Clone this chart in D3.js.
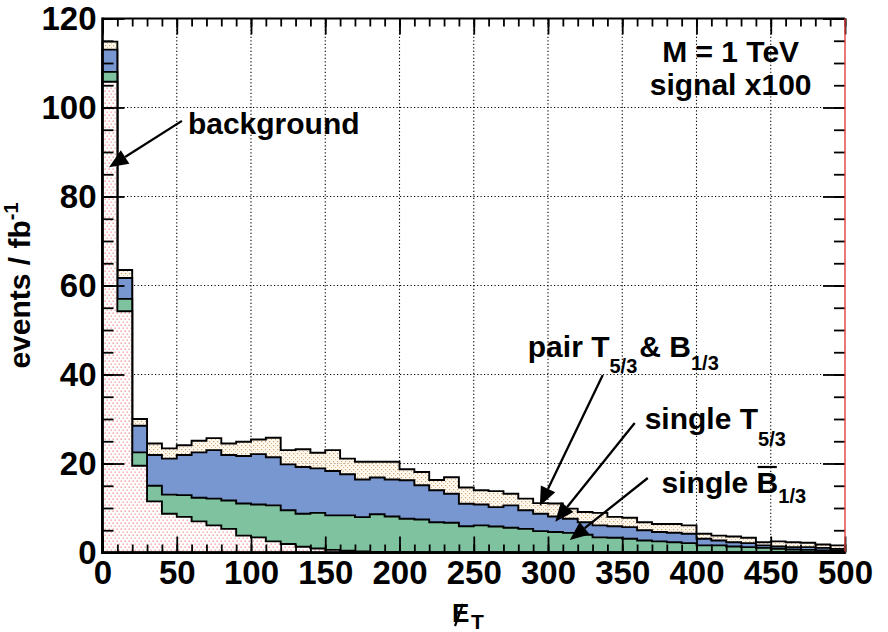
<!DOCTYPE html>
<html>
<head>
<meta charset="utf-8">
<script src="https://cdn.jsdelivr.net/npm/d3@7"></script>
<style>
  html, body { margin: 0; padding: 0; background: #fff; }
  svg { display: block; font-family: "Liberation Sans", Arial, Helvetica, sans-serif; font-weight: bold; }
</style>
</head>
<body>
<svg id="chart" width="888" height="632"></svg>
<script>
// Missing transverse energy, 10 GeV bins from 0 to 500 GeV
const binWidth = 10;
const binLow = d3.range(0, 500, binWidth);

// events / fb^-1 per bin, stacked bottom to top
const background = [105.8, 54.2, 19.5, 11.5, 8.7, 8.0, 7.0, 6.1, 5.3, 3.8,
                    3.4, 2.5, 1.9, 1.3, 0.9, 0.6, 0.4, 0.25, 0.15, 0.1,
                    0.05, 0.03, 0.02, 0.02, 0.01, 0, 0, 0, 0, 0,
                    0, 0, 0, 0, 0, 0, 0, 0, 0, 0,
                    0, 0, 0, 0, 0, 0, 0, 0, 0, 0];
const singleB = [2.2, 2.8, 3.0, 3.5, 4.3, 4.9, 5.3, 6.0, 6.4, 7.2,
                 7.4, 8.1, 7.6, 7.4, 8.0, 7.75, 7.95, 7.7, 8.45, 8.0,
                 7.55, 7.37, 6.78, 6.68, 5.89, 6.1, 5.85, 5.55, 5.3, 4.8,
                 4.6, 4.4, 4.0, 3.4, 3.3, 3.1, 2.7, 2.5, 2.3, 2.1,
                 1.6, 1.6, 1.35, 1.2, 1.05, 0.82, 0.67, 0.6, 0.45, 0.45];
const singleT = [5.0, 4.7, 6.0, 6.9, 8.1, 9.0, 10.2, 10.9, 10.2, 10.7,
                 11.3, 10.8, 10.3, 10.5, 10.0, 9.95, 9.25, 8.45, 8.25, 8.3,
                 8.65, 7.7, 7.2, 6.5, 5.06, 4.7, 4.35, 5.05, 4.2, 3.9,
                 3.5, 3.2, 2.8, 2.7, 2.6, 2.6, 2.3, 2.1, 2.15, 2.1,
                 1.5, 1.1, 0.95, 0.9, 0.55, 0.53, 0.53, 0.6, 0.6, 0.37];
const pairTB = [1.8, 1.8, 1.5, 2.6, 2.3, 2.2, 2.6, 2.7, 2.6, 3.2,
                3.3, 4.4, 3.2, 4.0, 3.5, 4.7, 3.5, 4.0, 3.55, 4.0,
                2.45, 3.0, 2.3, 3.7, 3.64, 3.2, 3.6, 2.6, 2.6, 2.4,
                2.9, 2.25, 2.3, 2.8, 2.1, 2.1, 1.8, 1.8, 1.95, 1.9,
                1.1, 1.1, 1.3, 1.2, 0.7, 1.15, 1.1, 1.0, 0.75, 0.78];

const xMajor = [0, 50, 100, 150, 200, 250, 300, 350, 400, 450, 500];
const yMajor = [0, 20, 40, 60, 80, 100, 120];
const xMinor = d3.range(0, 501, 10);
const yMinor = d3.range(0, 121, 5);

const svg = d3.select("#chart");
const x = d3.scaleLinear().domain([0, 500]).range([102.5, 845]);
const y = d3.scaleLinear().domain([0, 120]).range([552.5, 18.5]);

// fill patterns
const defs = svg.append("defs");
const pink = defs.append("pattern").attr("id", "bgDots")
  .attr("patternUnits", "userSpaceOnUse").attr("width", 4).attr("height", 6);
pink.append("rect").attr("width", 4).attr("height", 6).attr("fill", "#fff");
pink.append("rect").attr("x", 0.5).attr("y", 0.5).attr("width", 1.4).attr("height", 1.4).attr("fill", "#f29696");
pink.append("rect").attr("x", 2.5).attr("y", 3.5).attr("width", 1.4).attr("height", 1.4).attr("fill", "#f4a4a4");
const beige = defs.append("pattern").attr("id", "pairDots")
  .attr("patternUnits", "userSpaceOnUse").attr("width", 4).attr("height", 4);
beige.append("rect").attr("width", 4).attr("height", 4).attr("fill", "rgba(253,246,232,0.7)");
beige.append("rect").attr("x", 1).attr("y", 1).attr("width", 1.2).attr("height", 1.2).attr("fill", "#d6a06c");
beige.append("rect").attr("x", 3).attr("y", 3).attr("width", 1).attr("height", 1).attr("fill", "#e2b88e");

// dotted grid
const grid = svg.append("g").attr("stroke", "#000").attr("stroke-width", 1.1)
  .attr("stroke-dasharray", "1.2,2.3");
grid.selectAll(".gx").data(xMajor.slice(1, -1)).join("line")
  .attr("x1", d => x(d)).attr("x2", d => x(d)).attr("y1", y(0)).attr("y2", y(120));
grid.selectAll(".gy").data(yMajor.slice(1, -1)).join("line")
  .attr("x1", x(0)).attr("x2", x(500)).attr("y1", d => y(d)).attr("y2", d => y(d));

// stacked histograms
const rows = binLow.map((lo, i) => ({
  lo, background: background[i], singleB: singleB[i], singleT: singleT[i], pair: pairTB[i]
}));
const keys = ["background", "singleB", "singleT", "pair"];
const stacked = d3.stack().keys(keys)(rows);

const area = d3.area()
  .curve(d3.curveStepAfter)
  .x(p => x(p.lo))
  .y0(y(0))
  .y1(p => y(p.top));

function cumulative(layer) {
  const pts = layer.map(s => ({ lo: s.data.lo, top: s[1] }));
  pts.push({ lo: 500, top: pts[pts.length - 1].top });
  return pts;
}

const fills = {
  pair: "url(#pairDots)",
  singleT: "#7896d0",
  singleB: "#7fc29f",
  background: "url(#bgDots)"
};

const hist = svg.append("g");
[...stacked].reverse().forEach(layer => {
  hist.append("path")
    .attr("d", area(cumulative(layer)))
    .attr("fill", fills[layer.key])
    .attr("stroke", "#000")
    .attr("stroke-width", 1.9)
    .attr("stroke-linejoin", "miter");
});

// axes with inward ticks
function styleAxis(g) {
  g.select(".domain").remove();
  g.selectAll(".tick line").attr("stroke", "#000").attr("stroke-width", 1.8);
}
function styleLabels(g) {
  g.selectAll("text").attr("font-size", 33).attr("font-weight", "bold")
    .attr("font-family", "Liberation Sans, Arial, sans-serif").attr("fill", "#000");
}

svg.append("g").attr("transform", `translate(${x(0)},0)`)
  .call(d3.axisLeft(y).tickValues(yMajor).tickSize(-22).tickPadding(6).tickFormat(d3.format("d")))
  .call(styleAxis).call(styleLabels);
svg.append("g").attr("transform", `translate(${x(0)},0)`)
  .call(d3.axisLeft(y).tickValues(yMinor).tickSize(-11).tickFormat(""))
  .call(styleAxis);

svg.append("g").attr("transform", `translate(0,${y(0)})`)
  .call(d3.axisBottom(x).tickValues(xMajor).tickSize(-16).tickPadding(8).tickFormat(d3.format("d")))
  .call(styleAxis).call(styleLabels);
svg.append("g").attr("transform", `translate(0,${y(0)})`)
  .call(d3.axisBottom(x).tickValues(xMinor).tickSize(-8).tickFormat(""))
  .call(styleAxis);

svg.append("g").attr("transform", `translate(0,${y(120)})`)
  .call(d3.axisTop(x).tickValues(xMajor).tickSize(-16).tickFormat(""))
  .call(styleAxis);
svg.append("g").attr("transform", `translate(0,${y(120)})`)
  .call(d3.axisTop(x).tickValues(xMinor).tickSize(-8).tickFormat(""))
  .call(styleAxis);
svg.append("g").attr("transform", `translate(${x(500)},0)`)
  .call(d3.axisRight(y).tickValues(yMajor).tickSize(-22).tickFormat(""))
  .call(styleAxis);
svg.append("g").attr("transform", `translate(${x(500)},0)`)
  .call(d3.axisRight(y).tickValues(yMinor).tickSize(-11).tickFormat(""))
  .call(styleAxis);

// frame
svg.append("line").attr("x1", x(0)).attr("x2", x(500)).attr("y1", y(120)).attr("y2", y(120))
  .attr("stroke", "#000").attr("stroke-width", 2.2);
svg.append("line").attr("x1", x(500)).attr("x2", x(500)).attr("y1", y(120)).attr("y2", y(0))
  .attr("stroke", "#e04040").attr("stroke-width", 1.4);
svg.append("line").attr("x1", x(0)).attr("x2", x(0)).attr("y1", y(120) - 1).attr("y2", y(0) + 1.2)
  .attr("stroke", "#000").attr("stroke-width", 2.6);
svg.append("line").attr("x1", x(0) - 1.3).attr("x2", x(500)).attr("y1", y(0)).attr("y2", y(0))
  .attr("stroke", "#000").attr("stroke-width", 2.6);

// axis titles
const yTitle = svg.append("text")
  .attr("transform", `translate(30,${(y(0) + y(120)) / 2}) rotate(-90)`)
  .attr("text-anchor", "middle").attr("font-size", 30).attr("fill", "#000");
yTitle.append("tspan").text("events / fb");
yTitle.append("tspan").attr("font-size", 20).attr("dy", -12).text("-1");

const xTitle = svg.append("g");
xTitle.append("text").attr("x", 452).attr("y", 622).attr("font-size", 26).text("E");
xTitle.append("text").attr("x", 471).attr("y", 629).attr("font-size", 21).text("T");
xTitle.append("line").attr("x1", 463).attr("y1", 604).attr("x2", 455).attr("y2", 626)
  .attr("stroke", "#000").attr("stroke-width", 2.2);

// annotations (data coordinates)
const notes = svg.append("g").attr("font-size", 30).attr("fill", "#000");

function arrow(from, to) {
  const x1 = x(from[0]), y1 = y(from[1]), x2 = x(to[0]), y2 = y(to[1]);
  const ang = Math.atan2(y2 - y1, x2 - x1);
  const len = 19, half = 8;
  const bx = x2 - len * Math.cos(ang), by = y2 - len * Math.sin(ang);
  notes.append("line").attr("x1", x1).attr("y1", y1).attr("x2", bx).attr("y2", by)
    .attr("stroke", "#000").attr("stroke-width", 2.3);
  const px = -Math.sin(ang) * half, py = Math.cos(ang) * half;
  notes.append("path")
    .attr("d", `M${x2},${y2}L${bx + px},${by + py}L${bx - px},${by - py}Z`)
    .attr("fill", "#000");
}

notes.append("text").attr("x", x(57.5)).attr("y", y(94.0)).text("background");
arrow([53.5, 97.0], [4.4, 86.6]);

const pairLbl = notes.append("text").attr("x", x(286.4)).attr("y", y(43.9));
pairLbl.append("tspan").text("pair T");
pairLbl.append("tspan").attr("font-size", 20).attr("dy", 16).text("5/3");
pairLbl.append("tspan").attr("dx", 2).attr("dy", -16).text("& B");
pairLbl.append("tspan").attr("font-size", 20).attr("dy", 13).text("1/3");
arrow([336.9, 39.9], [294.5, 10.45]);

const tLbl = notes.append("text").attr("x", x(365.1)).attr("y", y(27.75));
tLbl.append("tspan").text("single T");
tLbl.append("tspan").attr("font-size", 20).attr("dy", 17).text("5/3");
arrow([358.4, 29.1], [304.9, 6.92]);

const bLbl = notes.append("text").attr("x", x(376.5)).attr("y", y(13.37));
bLbl.append("tspan").text("single B");
bLbl.append("tspan").attr("font-size", 20).attr("dy", 10).text("1/3");
arrow([367.2, 16.74], [314.7, 2.81]);
// bar over the B
const bBox = bLbl.node().getExtentOfChar(7);
notes.append("line")
  .attr("x1", bBox.x + 1).attr("x2", bBox.x + bBox.width - 1.5)
  .attr("y1", y(13.37) - 26).attr("y2", y(13.37) - 26)
  .attr("stroke", "#000").attr("stroke-width", 2.2);

notes.append("text").attr("x", x(423)).attr("y", y(110.3)).attr("text-anchor", "middle").text("M = 1 TeV");
notes.append("text").attr("x", x(423)).attr("y", y(102.8)).attr("text-anchor", "middle").text("signal x100");
</script>
</body>
</html>
